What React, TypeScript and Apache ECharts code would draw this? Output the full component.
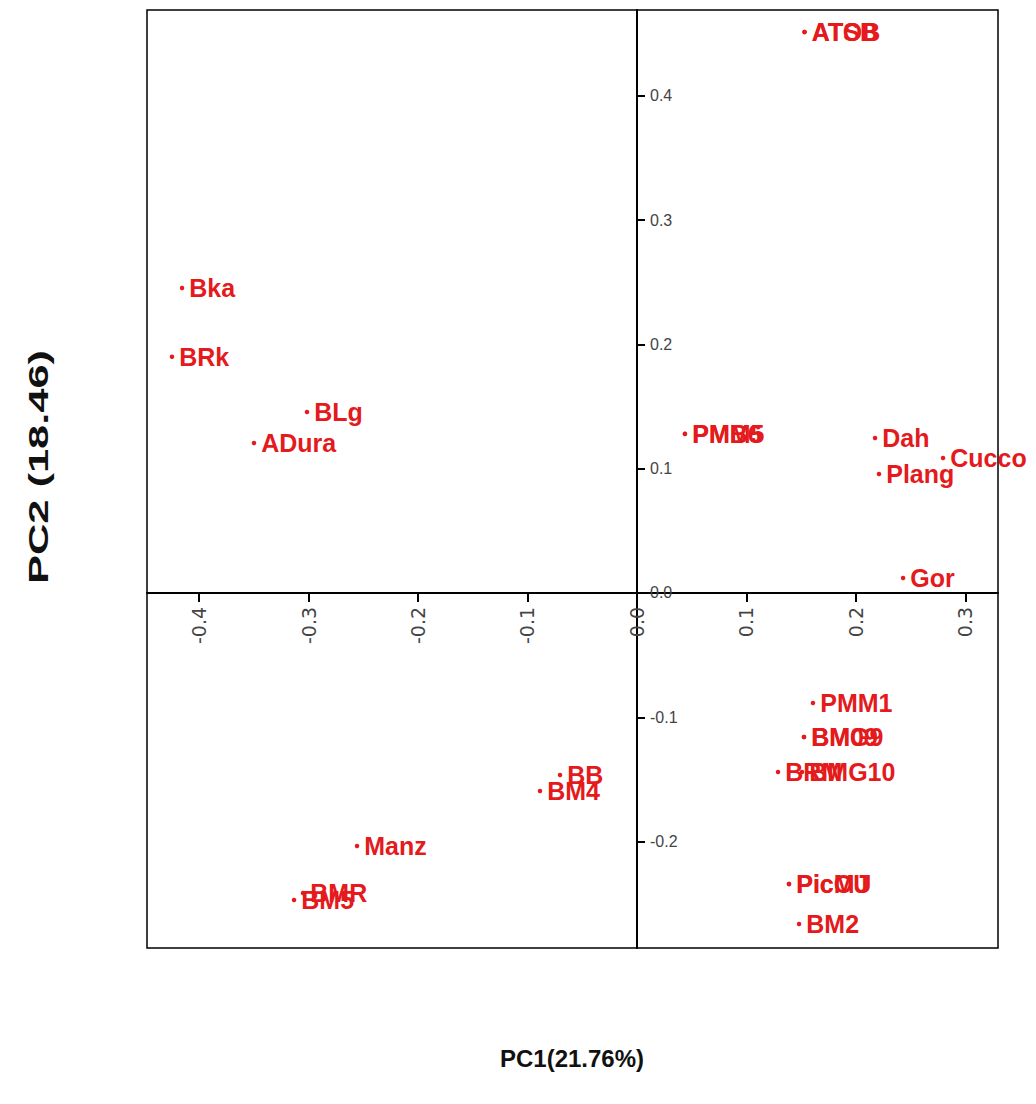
import React, { useEffect, useRef } from "react";
import * as echarts from "echarts";

const names = [
  "ATOB", "ATSB", "Bka", "BRk", "BLg", "ADura", "PMM5", "PMB6", "Dah", "Cucco",
  "Plang", "Gor", "PMM1", "BM09", "BMG9", "BRM", "BMG10", "BB", "BM4", "Manz",
  "BM5", "BMR", "PicMJ", "PicOU", "BM2",
];
const pc1 = [
  0.153, 0.153, -0.4155, -0.4247, -0.3014, -0.3498, 0.0438, 0.0438, 0.2174, 0.2795,
  0.221, 0.243, 0.1607, 0.1525, 0.1525, 0.1288, 0.1507, -0.0703, -0.0886, -0.2557,
  -0.3132, -0.305, 0.1388, 0.1388, 0.148,
];
const pc2 = [
  0.4513, 0.4513, 0.2454, 0.19, 0.1456, 0.1207, 0.128, 0.128, 0.1247, 0.1086,
  0.0957, 0.012, -0.0885, -0.1158, -0.1158, -0.144, -0.144, -0.1464, -0.1593, -0.2035,
  -0.247, -0.2413, -0.2341, -0.2341, -0.2663,
];
const xTicks = [-0.4, -0.3, -0.2, -0.1, 0.0, 0.1, 0.2, 0.3];
const yTicks = [-0.2, -0.1, 0.0, 0.1, 0.2, 0.3, 0.4];
const xTitle = "PC1(21.76%)";
const yTitle = "PC2 (18.46)";

const RED = "#e41a1c";

const X_MIN = -0.4475;
const X_MAX = 0.3297;
const Y_MIN = -0.2856;
const Y_MAX = 0.469;
const G_LEFT = 147;
const G_TOP = 10;
const G_W = 851;
const G_H = 938;

export default function App() {
  const ref = useRef<HTMLDivElement>(null);
  useEffect(() => {
    if (!ref.current) return;
    const chart = echarts.init(ref.current, null, { renderer: "svg" });
    const data = names.map((n, i) => [pc1[i], pc2[i], n]);
    // where the zero lines fall inside the plot box
    const yZeroFromTop = ((Y_MAX - 0) / (Y_MAX - Y_MIN)) * G_H;
    const xZeroFromLeft = ((0 - X_MIN) / (X_MAX - X_MIN)) * G_W;
    const lowerGrid = {
      left: G_LEFT,
      top: G_TOP + yZeroFromTop,
      width: G_W,
      height: G_H - yZeroFromTop,
    };
    chart.setOption({
      animation: false,
      backgroundColor: "#ffffff",
      grid: [
        {
          left: G_LEFT,
          top: G_TOP,
          width: G_W,
          height: G_H,
          show: true,
          borderColor: "#000",
          borderWidth: 1.5,
          backgroundColor: "transparent",
        },
        // lower part of the box: its top edge is the PC1 axis at PC2 = 0 (line + ticks)
        { ...lowerGrid },
        // right part of the box: its left edge is the PC2 axis at PC1 = 0
        {
          left: G_LEFT + xZeroFromLeft,
          top: G_TOP,
          width: G_W - xZeroFromLeft,
          height: G_H,
        },
        // same lower part again, carrying only the PC1 tick labels
        { ...lowerGrid },
      ],
      xAxis: [
        { gridIndex: 0, type: "value", min: X_MIN, max: X_MAX, show: false },
        {
          gridIndex: 1,
          type: "value",
          position: "top",
          min: X_MIN,
          max: X_MAX,
          axisLine: { show: true, onZero: false, lineStyle: { color: "#000", width: 2 } },
          axisTick: {
            show: true,
            inside: true,
            length: 9,
            customValues: xTicks,
            lineStyle: { color: "#000", width: 2 },
          },
          axisLabel: { show: false },
          splitLine: { show: false },
        },
        { gridIndex: 2, type: "value", min: 0, max: 1, show: false },
        {
          gridIndex: 3,
          type: "value",
          position: "top",
          min: X_MIN,
          max: X_MAX,
          axisLine: { show: false, onZero: false },
          axisTick: { show: false },
          axisLabel: {
            customValues: xTicks,
            inside: true,
            rotate: -90,
            margin: 14,
            fontSize: 19,
            fontFamily: "DejaVu Sans",
            color: "#444",
            formatter: (v: number) => v.toFixed(1),
          },
          splitLine: { show: false },
        },
      ],
      yAxis: [
        { gridIndex: 0, type: "value", min: Y_MIN, max: Y_MAX, show: false },
        { gridIndex: 1, type: "value", min: 0, max: 1, show: false },
        {
          gridIndex: 2,
          type: "value",
          position: "left",
          min: Y_MIN,
          max: Y_MAX,
          axisLine: { show: true, onZero: false, lineStyle: { color: "#000", width: 2 } },
          axisTick: {
            show: true,
            inside: true,
            length: 8,
            customValues: yTicks,
            lineStyle: { color: "#000", width: 2 },
          },
          axisLabel: {
            customValues: yTicks,
            inside: true,
            margin: 13,
            fontSize: 16,
            fontFamily: "Liberation Sans, Arial",
            color: "#444",
            formatter: (v: number) => v.toFixed(1),
          },
          splitLine: { show: false },
        },
        { gridIndex: 3, type: "value", min: 0, max: 1, show: false },
      ],
      series: [
        {
          type: "scatter",
          xAxisIndex: 0,
          yAxisIndex: 0,
          data,
          symbol: "circle",
          symbolSize: 4.5,
          itemStyle: { color: RED, opacity: 1 },
          label: {
            show: true,
            position: "right",
            distance: 5,
            formatter: (p: any) => p.data[2],
            color: RED,
            opacity: 1,
            fontSize: 25,
            fontWeight: "bold",
            fontFamily: "Liberation Sans, Arial",
          },
          emphasis: { disabled: true },
          labelLayout: { hideOverlap: false },
        },
      ],
      graphic: [
        {
          type: "text",
          x: 572,
          y: 1058,
          style: {
            text: xTitle,
            fontSize: 24,
            fontWeight: "bold",
            fontFamily: "Liberation Sans, Arial",
            fill: "#111",
            textAlign: "center",
            textVerticalAlign: "middle",
          },
        },
        {
          type: "text",
          x: 38,
          y: 467,
          rotation: Math.PI / 2,
          scaleX: 1.55,
          style: {
            text: yTitle,
            fontSize: 28,
            fontWeight: "bold",
            fontFamily: "Liberation Sans, Arial",
            fill: "#111",
            textAlign: "center",
            textVerticalAlign: "middle",
          },
        },
      ],
    });
    return () => chart.dispose();
  }, []);
  return (
    <div
      ref={ref}
      style={{ position: "absolute", left: 0, top: 0, width: 1036, height: 1104, background: "#fff" }}
    />
  );
}
